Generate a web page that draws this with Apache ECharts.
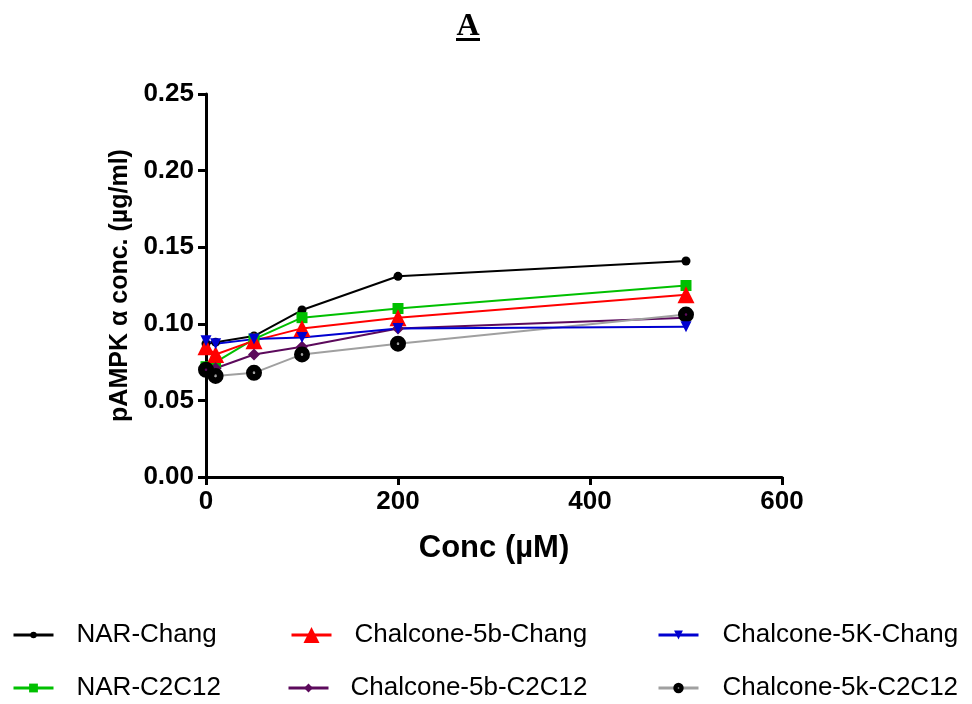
<!DOCTYPE html>
<html>
<head>
<meta charset="utf-8">
<script src="https://cdn.jsdelivr.net/npm/echarts@6/dist/echarts.min.js"></script>
<style>html,body{margin:0;padding:0;background:#fff}#c{width:972px;height:704px}</style>
</head>
<body>
<div id="c"></div>
<script>
const concs = [0, 10, 50, 100, 200, 500];
const narChang = [0.087, 0.088, 0.092, 0.109, 0.131, 0.141];
const c5bChang = [0.085, 0.080, 0.089, 0.097, 0.104, 0.119];
const c5KChang = [0.089, 0.087, 0.090, 0.091, 0.097, 0.098];
const narC2C12 = [0.072, 0.075, 0.090, 0.104, 0.110, 0.125];
const c5bC2C12 = [0.070, 0.071, 0.080, 0.085, 0.097, 0.104];
const c5kC2C12 = [0.070, 0.066, 0.068, 0.080, 0.087, 0.106];
const seriesNames = ['NAR-Chang','Chalcone-5b-Chang','Chalcone-5K-Chang','NAR-C2C12','Chalcone-5b-C2C12','Chalcone-5k-C2C12'];
const xTicks = [0, 200, 400, 600];
const yTicks = [0, 0.05, 0.10, 0.15, 0.20, 0.25];

function pts(vals){ return concs.map((x,i)=>[x, vals[i]]); }

const ringPath = 'path://M0,-10A10,10 0 1,1 0,10A10,10 0 1,1 0,-10ZM0,-1.6A1.6,1.6 0 1,0 0,1.6A1.6,1.6 0 1,0 0,-1.6Z';

const chart = echarts.init(document.getElementById('c'));
const labelFont = {fontFamily:'Liberation Sans', fontWeight:'bold', fontSize:26, color:'#000'};
function mk(name, vals, lineColor, markColor, symbol, size, extra){
  return Object.assign({
    name, type:'line', data:pts(vals), symbol, symbolSize:size,
    lineStyle:{color:lineColor, width:2},
    itemStyle:{color:markColor},
    emphasis:{disabled:true}, animation:false
  }, extra||{});
}
const series = [
  mk(seriesNames[0], narChang, '#000', '#000', 'circle', 9),
  mk(seriesNames[3], narC2C12, '#00c000', '#00c000', 'rect', 11),
  mk(seriesNames[1], c5bChang, '#ff0000', '#ff0000', 'triangle', 17),
  mk(seriesNames[4], c5bC2C12, '#5c0a5c', '#5c0a5c', 'diamond', 12),
  mk(seriesNames[5], c5kC2C12, '#a0a0a0', '#000', ringPath, 16, {symbolKeepAspect:true}),
  mk(seriesNames[2], c5KChang, '#0000d0', '#0000d0', 'triangle', 11, {symbolRotate:180})
];

const legPos = [
  [seriesNames[0], 12, 621, 8],
  [seriesNames[1], 290, 621, 20],
  [seriesNames[2], 657, 621, 11],
  [seriesNames[3], 12, 674, 11],
  [seriesNames[4], 287, 674, 11],
  [seriesNames[5], 657, 674, 13]
];
const textGap = [23, 23, 24, 23, 22, 24];
const legends = legPos.map((p,i)=>({
  data:[p[0]], left:p[1], top:p[2], padding:0, itemWidth:40, itemHeight:p[3],
  selectedMode:false, lineStyle:{width:3},
  textStyle:{fontFamily:'Liberation Sans', fontSize:26, color:'#000', padding:[0,0,0,textGap[i]-5], lineHeight:28}
}));

chart.setOption({
  backgroundColor:'#fff',
  animation:false,
  graphic:[
    {type:'text', x:468, y:27, style:{text:'A', textAlign:'center', textVerticalAlign:'middle',
      font:'bold 32px "Liberation Serif"', fill:'#000'}},
    {type:'rect', left:456, top:38, shape:{width:24, height:3}, style:{fill:'#000'}}
  ],
  legend: legends,
  grid:{left:206, right:190, top:94, bottom:227, containLabel:false},
  xAxis:{type:'value', min:xTicks[0], max:xTicks[xTicks.length-1], interval:200,
    name:'Conc (µM)', nameLocation:'middle', nameGap:56,
    nameTextStyle:{fontFamily:'Liberation Sans', fontWeight:'bold', fontSize:31, color:'#000'},
    axisLine:{lineStyle:{color:'#000', width:3}},
    axisTick:{show:true, length:8, lineStyle:{color:'#000', width:3}},
    axisLabel:{...labelFont, margin:12},
    splitLine:{show:false}},
  yAxis:{type:'value', min:yTicks[0], max:yTicks[yTicks.length-1], interval:0.05,
    name:'pAMPK α conc. (µg/ml)', nameLocation:'middle', nameGap:72, nameRotate:90,
    nameTextStyle:{fontFamily:'Liberation Sans', fontWeight:'bold', fontSize:25, color:'#000'},
    axisLine:{show:true, lineStyle:{color:'#000', width:3}},
    axisTick:{show:true, length:8, lineStyle:{color:'#000', width:3}},
    axisLabel:{...labelFont, margin:12, formatter:v=>v.toFixed(2)},
    splitLine:{show:false}},
  series
});
</script>
</body>
</html>
